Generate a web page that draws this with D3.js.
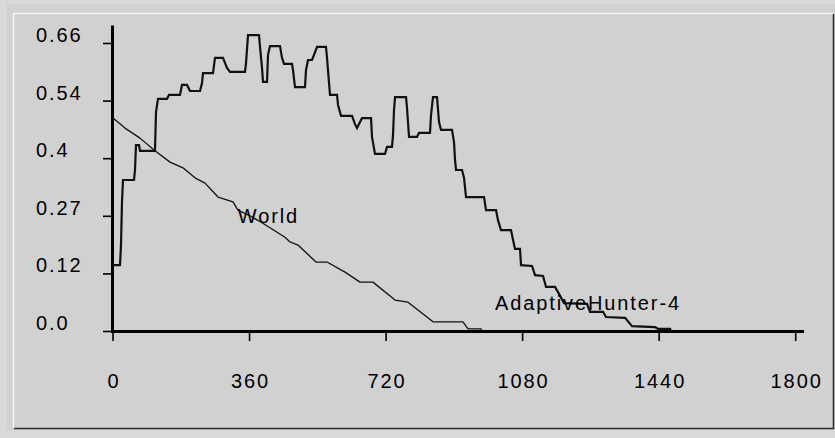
<!DOCTYPE html>
<html>
<head>
<meta charset="utf-8">
<script src="https://cdn.jsdelivr.net/npm/d3@7"></script>
<style>
  html, body { margin: 0; padding: 0; background: #d9d9d9; }
  svg { display: block; }
  text { font-family: "Liberation Sans", Arial, Helvetica, sans-serif; fill: #000; }
</style>
</head>
<body>
<svg id="chart" width="835" height="438"></svg>
<script>
// Time axis ticks and value axis ticks (labels as printed on the axis)
const xTickValues = [0, 360, 720, 1080, 1440, 1800];
const yTickValues = [0, 0.132, 0.264, 0.396, 0.528, 0.66];
const yTickLabels = ["0.0", "0.12", "0.27", "0.4", "0.54", "0.66"];

// Series: AdaptiveHunter-4 (time, value)
const hunterT = [0, 18.5, 21.1, 23.7, 26.4, 55.4, 58.0, 60.6, 68.6, 71.2, 110.7, 113.4, 118.7, 142.4, 147.7, 176.7,
  181.9, 195.1, 203.0, 229.4, 234.7, 237.3, 263.7, 268.9, 290.0, 300.6, 308.5, 348.0, 350.7, 356.0, 385.0, 387.6,
  392.9, 395.5, 406.1, 408.7, 414.0, 440.3, 445.6, 450.9, 472.0, 474.6, 479.9, 506.2, 508.9, 514.2, 524.7, 530.0,
  537.9, 561.6, 564.3, 569.6, 572.2, 590.7, 593.3, 601.2, 630.2, 638.1, 643.4, 651.3, 656.5, 680.3, 682.9, 690.8,
  717.2, 722.5, 735.6, 738.3, 740.9, 743.6, 772.6, 775.2, 780.5, 801.6, 806.9, 835.8, 838.5, 843.7, 854.3, 859.6,
  864.8, 893.8, 899.1, 901.8, 904.4, 920.2, 925.5, 930.8, 978.2, 983.5, 1009.9, 1015.1, 1023.0, 1049.4, 1054.7,
  1059.9, 1073.1, 1075.8, 1104.8, 1112.7, 1133.8, 1141.7, 1165.4, 1173.3, 1189.2, 1249.8, 1257.7, 1292.0, 1299.9,
  1350.0, 1368.5, 1429.1, 1437.0, 1468.7, 1471.3];
const hunterV = [0.151, 0.151, 0.197, 0.296, 0.346, 0.346, 0.369, 0.426, 0.426, 0.413, 0.413, 0.502, 0.532, 0.532, 0.541, 0.541,
  0.564, 0.564, 0.550, 0.550, 0.568, 0.591, 0.591, 0.626, 0.626, 0.603, 0.594, 0.594, 0.614, 0.678, 0.678, 0.651,
  0.603, 0.571, 0.571, 0.633, 0.653, 0.653, 0.626, 0.612, 0.612, 0.598, 0.559, 0.559, 0.598, 0.621, 0.621, 0.633,
  0.651, 0.651, 0.626, 0.568, 0.541, 0.541, 0.518, 0.493, 0.493, 0.474, 0.465, 0.479, 0.488, 0.488, 0.445, 0.406,
  0.406, 0.422, 0.422, 0.449, 0.506, 0.536, 0.536, 0.511, 0.445, 0.445, 0.454, 0.454, 0.495, 0.536, 0.536, 0.479,
  0.461, 0.461, 0.433, 0.392, 0.369, 0.369, 0.351, 0.307, 0.307, 0.277, 0.277, 0.254, 0.231, 0.231, 0.209,
  0.188, 0.188, 0.151, 0.149, 0.128, 0.126, 0.101, 0.101, 0.089, 0.064, 0.062, 0.044, 0.044, 0.032,
  0.030, 0.011, 0.009, 0.005, 0.005, 0];

// Series: World (time, value)
const worldT = [0, 31.6, 71.2, 110.7, 150.3, 184.6, 216.2, 242.6, 276.9, 316.4, 329.6, 361.2, 392.9, 453.5, 466.7,
  487.8, 535.2, 564.3, 611.7, 651.3, 685.5, 743.6, 777.8, 843.7, 922.8, 936.0, 970.3, 972.9];
const worldV = [0.488, 0.465, 0.442, 0.413, 0.387, 0.374, 0.351, 0.339, 0.307, 0.296, 0.277, 0.264, 0.248, 0.215, 0.204,
  0.197, 0.158, 0.158, 0.135, 0.112, 0.112, 0.071, 0.066, 0.021, 0.021, 0.005, 0.005, 0];

// Series name labels and where they sit (time, value)
const seriesNames = ["World", "AdaptiveHunter-4"];
const labelT = [329, 1007];
const labelV = [0.248, 0.048];

const svg = d3.select("#chart");
const W = 835, H = 438;

// Etched panel
svg.append("rect").attr("x", 7).attr("y", 4).attr("width", W - 7).attr("height", 426).attr("fill", "#d1d1d1");
svg.append("path").attr("d", "M13.5,428 V13.5 H833").attr("fill", "none").attr("stroke", "#f4f4f4").attr("stroke-width", 1.5);
svg.append("path").attr("d", "M14,428.5 H833.5 V14").attr("fill", "none").attr("stroke", "#2a2a2a").attr("stroke-width", 1.5);

const x = d3.scaleLinear().domain([0, 1800]).range([113, 795.7]);
const y = d3.scaleLinear().domain([0, 0.66]).range([331, 43]);

const FS = 20, LS = 1.9;

// Axis lines (extend past the last tick)
svg.append("line").attr("x1", x(0) - 1.5).attr("x2", x(1822)).attr("y1", y(0) + 0.5).attr("y2", y(0) + 0.5)
  .attr("stroke", "#000").attr("stroke-width", 3);
svg.append("line").attr("x1", x(0) - 0.5).attr("x2", x(0) - 0.5).attr("y1", y(0) + 2).attr("y2", y(0.7))
  .attr("stroke", "#000").attr("stroke-width", 3);

// X ticks and labels
const xAxis = svg.append("g");
xAxis.selectAll("line").data(xTickValues).join("line")
  .attr("x1", d => x(d)).attr("x2", d => x(d)).attr("y1", y(0) + 1).attr("y2", y(0) + 10)
  .attr("stroke", "#000").attr("stroke-width", 1.6);
xAxis.selectAll("text").data(xTickValues).join("text")
  .attr("x", d => x(d) + LS / 2).attr("y", 388).attr("text-anchor", "middle")
  .attr("font-size", FS).attr("letter-spacing", LS).text(d => String(d));

// Y ticks and labels
const yAxis = svg.append("g");
yAxis.selectAll("line").data(yTickValues).join("line")
  .attr("x1", x(0) - 10).attr("x2", x(0)).attr("y1", d => y(d) + 0.5).attr("y2", d => y(d) + 0.5)
  .attr("stroke", "#000").attr("stroke-width", 1.6);
yAxis.selectAll("text").data(yTickValues).join("text")
  .attr("x", 36).attr("y", d => y(d) - 1)
  .attr("font-size", FS).attr("letter-spacing", LS).text((d, i) => yTickLabels[i]);

const line = d3.line().x(d => x(d[0])).y(d => y(d[1]));

// World line (thin)
svg.append("path").datum(d3.zip(worldT, worldV))
  .attr("d", line).attr("fill", "none").attr("stroke", "#111").attr("stroke-width", 1.3)
  .attr("stroke-linejoin", "round");

// AdaptiveHunter-4 line (heavier)
svg.append("path").datum(d3.zip(hunterT, hunterV))
  .attr("d", line).attr("fill", "none").attr("stroke", "#111").attr("stroke-width", 2.2)
  .attr("stroke-linejoin", "miter");

// Series name labels
svg.append("g").selectAll("text").data(seriesNames).join("text")
  .attr("x", (d, i) => x(labelT[i])).attr("y", (d, i) => y(labelV[i]))
  .attr("font-size", FS).attr("letter-spacing", LS).text(d => d);
</script>
</body>
</html>
